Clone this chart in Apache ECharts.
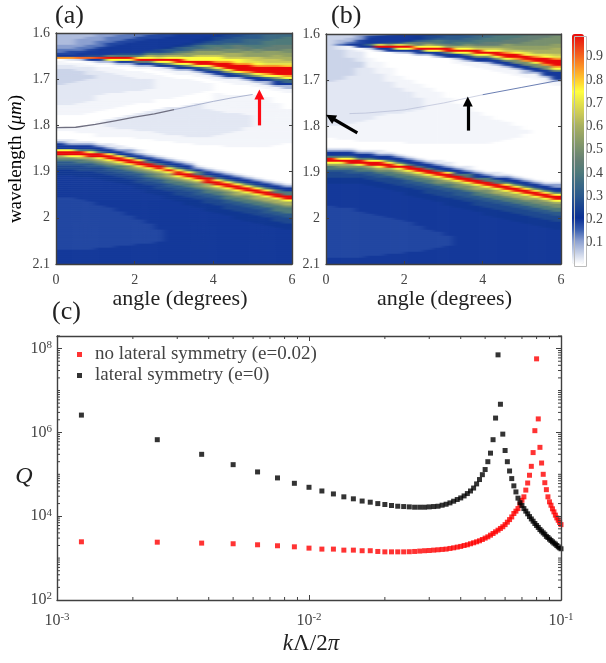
<!DOCTYPE html>
<html><head><meta charset="utf-8">
<style>html,body{margin:0;padding:0;background:#fff}
#page{position:relative;width:606px;height:663px;overflow:hidden}
#c{position:absolute;left:0;top:0;width:606px;height:663px;filter:blur(0.4px)}
.clip{position:absolute;overflow:hidden}
.inner{position:absolute;filter:url(#heatBlur)}
</style>
<script src="https://cdn.jsdelivr.net/npm/echarts@6/dist/echarts.min.js"></script>
</head><body>
<svg width="0" height="0" style="position:absolute"><filter id="heatBlur" x="0" y="0" width="100%" height="100%" color-interpolation-filters="sRGB"><feGaussianBlur stdDeviation="3 0.6"/></filter></svg>
<div id="page"><div id="c"></div></div>
<script>
// colour scale (0 to 1 in steps of 0.05)
const colorStops = ['#ffffff','#c5cfe6','#8ca0d0','#3a5fb0','#0a2f94','#1a4490','#2c5a8c','#3c6a84','#4f7a7a','#647f74','#78906e','#90a066','#a8b060','#c8c858','#e4e24c','#ffff40','#ffcc30','#fc9a28','#f56a20','#ec3a18','#ea0808'];
const levelSymbols = '0123456789abcdefghijklmnop';
const levelValues = [0,.01,.025,.045,.07,.1,.13,.175,.19,.22,.26,.3,.35,.4,.45,.5,.55,.6,.65,.7,.75,.8,.85,.9,.95,1];
const rowCount = 115;
// each column: level symbol : wavelength offset (thousandths of a micron above 1.6) up to which it holds
const panelAColumns = [
"4:25 5:36 6:43 7:47 8:51 m:55 8:56 2:58 0:62 1:68 2:78 3:115 2:155 1:180 0:205 1:213 0:231 2:236 5:241 8:250 d:253 k:256 p:264 k:267 h:270 f:274 d:279 b:286 a:296 9:309 8:355 7:470 8:500",
"4:25 5:34 6:41 7:46 8:51 m:55 8:57 2:60 0:64 1:70 2:80 3:110 2:155 1:178 0:204 1:214 0:232 2:237 5:242 8:251 d:254 k:257 p:265 k:268 h:271 f:275 d:280 b:287 a:297 9:310 8:358 7:470 8:500",
"4:15 5:30 6:38 7:44 8:50 a:52 l:53 n:55 k:56 8:58 3:61 0:66 1:72 2:84 3:105 2:150 1:178 0:203 1:216 0:233 2:238 5:243 8:252 d:255 k:258 p:266 k:269 h:272 f:276 d:281 b:288 a:298 9:311 8:360 7:470 8:500",
"4:10 5:24 6:35 7:40 8:49 a:51 k:53 n:56 k:57 8:59 3:62 1:66 0:70 1:76 2:90 3:100 2:146 1:174 0:198 1:218 0:235 2:240 5:245 8:254 d:257 k:260 p:268 k:271 h:274 f:278 d:283 b:290 a:300 9:313 8:365 7:468 8:500",
"5:18 6:30 7:36 8:48 a:50 g:52 k:54 o:57 k:58 8:61 4:65 1:70 0:75 1:84 2:135 1:170 0:192 1:225 0:237 2:243 5:248 8:257 d:260 k:263 p:271 k:274 h:277 f:281 d:286 b:293 a:303 9:316 8:372 7:466 8:500",
"5:10 6:22 7:32 8:46 a:49 e:51 k:54 p:57 k:59 8:62 4:66 1:71 0:76 1:88 2:132 1:165 0:188 2:205 1:226 0:240 2:246 5:251 8:260 d:263 k:266 p:274 k:277 h:281 f:285 d:290 b:298 a:308 9:322 8:380 7:464 8:500",
"5:6 6:16 7:26 8:45 a:48 d:51 j:54 p:58 k:60 e:62 8:65 4:69 1:74 0:80 1:92 2:130 1:160 0:184 2:208 1:228 0:245 2:250 5:255 8:264 d:267 k:270 p:278 k:281 h:285 f:289 d:295 b:303 a:313 9:327 8:388 7:462 8:500",
"6:14 7:22 8:44 a:47 d:50 j:54 p:58 k:61 e:63 8:66 4:70 1:76 0:82 1:95 2:128 1:156 0:180 2:210 1:228 0:249 2:254 5:259 8:268 d:271 k:274 p:282 k:285 h:289 f:294 d:300 b:308 a:318 9:332 8:396 7:460 8:500",
"6:10 7:18 8:42 a:46 d:50 i:54 k:56 p:59 k:62 e:64 8:68 4:72 1:78 0:84 1:98 2:125 1:152 0:175 2:212 1:230 0:254 2:259 5:264 8:272 d:276 k:279 p:287 k:291 h:295 f:300 d:306 b:314 a:325 9:340 8:405 7:458 8:500",
"6:5 7:14 8:38 a:44 d:49 h:53 k:56 p:60 k:63 e:65 8:69 4:73 1:80 0:86 1:100 2:122 1:150 0:171 2:215 1:232 0:259 2:264 5:269 8:277 d:281 k:284 p:292 k:296 h:300 f:305 d:312 b:320 a:331 9:346 8:415 7:456 8:500",
"7:12 8:34 a:42 d:48 g:52 j:55 k:57 p:62 k:65 f:67 b:68 8:72 4:76 1:84 0:90 1:145 0:167 2:218 1:234 0:264 2:269 5:274 8:282 d:286 k:289 p:297 k:301 h:305 f:311 d:318 b:326 a:338 9:353 8:425 7:454 8:500",
"7:8 8:30 9:36 b:42 e:48 h:53 k:57 p:63 k:66 f:68 b:70 8:74 4:78 1:86 0:94 1:142 0:163 2:220 1:236 0:269 2:274 5:279 8:287 d:291 k:294 p:302 k:306 h:311 f:317 d:324 b:333 a:345 9:360 8:500",
"8:26 9:32 b:38 d:44 f:49 h:53 k:58 p:65 k:68 f:71 b:73 8:77 4:81 1:90 0:98 1:138 0:159 2:222 1:238 0:274 2:279 5:284 8:292 d:296 k:299 p:307 k:311 h:316 f:322 d:330 b:339 a:351 9:366 8:500",
"8:20 9:26 a:32 c:38 e:44 g:50 i:54 k:59 p:67 k:70 f:73 b:75 8:80 4:84 1:93 0:102 1:135 0:156 2:224 1:240 0:279 2:284 5:289 8:297 d:301 k:304 p:312 k:316 h:321 f:327 d:335 b:345 a:357 9:372 8:500",
"8:14 9:22 a:28 c:34 e:41 g:48 i:54 k:60 p:69 k:72 f:75 b:77 8:83 4:87 1:96 0:105 1:132 0:152 2:225 1:242 0:285 2:290 5:295 8:302 d:307 k:310 p:318 k:322 h:327 f:333 d:341 b:351 a:363 9:379 8:500",
"8:8 9:16 a:22 b:28 d:34 e:40 g:47 i:54 k:60 m:63 p:71 k:75 f:78 b:81 8:87 4:91 1:100 0:110 1:128 0:148 1:165 2:225 1:244 0:290 2:295 5:300 8:307 d:312 k:315 p:324 k:328 h:333 f:339 d:347 b:357 a:369 9:385 8:500",
"9:10 a:18 b:26 d:32 e:38 g:46 i:54 k:61 m:64 p:74 k:78 f:81 b:84 8:90 4:94 1:104 0:130 1:170 2:222 1:245 0:295 2:300 5:305 8:312 d:317 k:320 p:329 k:333 h:338 f:345 d:353 b:363 a:375 9:391 8:500",
"9:6 a:14 b:22 c:28 d:34 f:42 h:50 i:56 k:62 m:66 p:78 k:82 g:85 c:88 8:94 4:99 1:108 0:135 1:172 2:218 1:246 0:300 2:305 5:310 8:317 d:322 k:325 p:334 k:338 h:344 f:351 d:359 b:369 a:381 9:397 8:500",
"a:10 b:20 c:28 e:36 f:44 h:52 i:58 k:64 m:68 p:81 k:85 g:88 c:91 8:97 4:102 1:112 0:133 1:175 2:212 1:247 0:304 2:309 5:314 8:322 d:327 k:330 p:339 k:344 h:350 f:357 d:365 b:375 a:387 9:403 8:500",
"a:6 b:14 c:24 d:32 e:40 g:50 i:58 j:64 k:67 m:70 p:83 m:85 k:88 g:91 c:94 8:100 4:105 1:115 0:133 1:180 2:205 1:248 0:308 2:313 5:318 8:326 d:331 k:334 p:343 k:348 h:354 f:361 d:369 b:379 a:391 9:407 8:500",
"b:12 c:24 d:34 f:42 g:50 i:60 j:66 k:69 m:72 p:85 m:88 k:91 g:94 c:97 8:103 4:108 1:118 0:135 1:248 0:312 2:317 5:322 8:331 d:336 k:339 p:348 k:353 h:359 f:366 d:374 b:384 a:396 9:412 8:500",
"b:6 c:18 d:32 e:40 g:50 h:58 i:64 j:68 k:71 m:73 p:88 m:91 k:94 g:97 c:100 8:106 4:111 1:121 0:140 1:248 0:317 2:322 5:327 8:336 d:341 k:344 p:353 k:358 h:364 f:371 d:380 b:390 a:402 9:418 8:500",
"c:12 d:28 e:38 g:48 h:56 i:64 j:68 k:71 m:74 p:90 m:93 k:96 g:100 c:104 8:111 4:116 1:125 0:150 1:245 0:322 2:327 5:332 8:341 d:346 k:349 p:358 k:363 h:369 f:376 d:385 b:395 a:407 9:423 8:500",
"c:8 d:24 e:36 f:44 g:52 h:60 i:66 j:70 l:73 m:75 p:93 m:95 k:98 g:102 c:107 8:115 4:122 1:129 0:165 1:240 0:325 2:331 5:336 8:345 d:350 k:353 p:362 k:367 h:373 f:380 d:390 b:400 a:412 9:428 8:500"
];
const panelBColumns = [
"3:105 2:200 1:228 0:246 2:251 5:256 8:265 d:268 k:271 p:279 k:282 h:285 f:289 d:294 b:301 a:311 9:324 8:375 7:485 8:500",
"3:14 4:22 6:25 2:35 3:100 2:198 1:230 0:247 2:252 5:257 8:266 d:269 k:272 p:280 k:283 h:286 f:290 d:295 b:302 a:312 9:325 8:378 7:485 8:500",
"3:8 4:16 6:22 8:26 1:34 2:50 3:90 2:195 1:232 0:248 2:253 5:258 8:267 d:270 k:273 p:281 k:284 h:287 f:291 d:296 b:303 a:313 9:326 8:380 7:485 8:500",
"4:6 5:12 7:20 8:25 j:27 8:29 0:33 1:40 2:60 3:75 2:190 1:233 0:250 2:255 5:260 8:269 d:272 k:275 p:283 k:286 h:289 f:293 d:298 b:305 a:315 9:328 8:385 7:485 8:500",
"5:4 7:10 8:22 c:24 l:26 n:28 8:31 3:34 0:50 1:75 2:185 1:234 0:252 2:257 5:262 8:271 d:274 k:277 p:285 k:288 h:291 f:295 d:300 b:307 a:317 9:330 8:390 7:484 8:500",
"6:3 7:6 8:20 b:23 j:25 p:29 k:30 8:34 3:37 0:62 1:88 2:180 1:235 0:254 2:259 5:264 8:273 d:276 k:279 p:287 k:290 h:294 f:298 d:303 b:311 a:321 9:335 8:395 7:482 8:500",
"7:3 8:18 a:21 g:24 k:27 p:30 k:32 8:37 3:40 0:76 1:105 2:176 1:236 0:257 2:262 5:267 8:276 d:279 k:282 p:290 k:293 h:297 f:301 d:307 b:315 a:325 9:339 8:400 7:480 8:500",
"8:16 a:20 e:23 j:26 p:31 k:33 8:39 3:42 0:90 1:118 2:172 1:236 0:260 2:265 5:270 8:279 d:282 k:285 p:293 k:296 h:300 f:305 d:311 b:319 a:329 9:343 8:405 7:478 8:500",
"8:12 9:18 d:22 h:26 k:28 p:32 k:35 8:41 4:44 0:100 1:128 2:168 1:237 0:264 2:269 5:274 8:282 d:286 k:289 p:297 k:301 h:305 f:310 d:316 b:324 a:335 9:350 8:410 7:476 8:500",
"8:6 9:14 b:19 e:24 h:27 k:29 p:33 k:36 8:43 4:46 0:107 1:140 2:165 1:237 0:268 2:273 5:278 8:286 d:290 k:293 p:301 k:305 h:309 f:314 d:321 b:329 a:340 9:355 8:418 7:474 8:500",
"9:5 a:12 c:18 e:23 h:27 k:30 p:34 k:37 f:39 8:45 4:48 0:116 1:237 0:272 2:277 5:282 8:290 d:294 k:297 p:305 k:309 h:313 f:319 d:326 b:334 a:346 9:361 8:425 7:470 8:500",
"9:2 a:8 b:14 d:20 f:25 h:28 k:31 p:36 k:39 f:41 8:47 4:50 0:126 1:238 0:276 2:281 5:286 8:294 d:298 k:301 p:309 k:313 h:318 f:324 d:331 b:340 a:352 9:367 8:432 7:465 8:500",
"a:6 b:14 c:20 e:25 g:29 k:32 p:37 k:40 f:43 8:50 4:54 0:138 1:238 0:280 2:285 5:290 8:298 d:302 k:305 p:313 k:317 h:322 f:328 d:336 b:345 a:357 9:372 8:440 7:460 8:500",
"a:4 b:12 c:19 d:24 f:28 h:31 k:34 p:39 k:42 f:45 8:53 4:57 1:66 0:150 1:238 0:285 2:290 5:295 8:303 d:307 k:310 p:318 k:322 h:327 f:333 d:341 b:351 a:363 9:378 8:500",
"b:8 c:16 d:22 f:27 h:31 k:35 p:41 k:44 f:48 8:56 4:60 1:70 0:160 1:238 0:289 2:294 5:299 8:306 d:311 k:314 p:322 k:326 h:331 f:337 d:345 b:355 a:367 9:383 8:500",
"b:5 c:14 d:21 e:26 g:31 i:34 k:36 p:43 k:47 f:51 8:59 4:63 1:74 0:170 1:238 0:294 2:299 5:304 8:311 d:316 k:319 p:328 k:332 h:337 f:343 d:351 b:361 a:373 9:389 8:500",
"c:10 d:19 e:25 g:31 i:35 k:38 p:45 k:49 f:53 8:62 4:66 1:78 0:177 1:237 0:298 2:303 5:308 8:315 d:320 k:323 p:332 k:336 h:341 f:348 d:356 b:366 a:378 9:394 8:500",
"c:6 d:16 e:24 g:31 i:36 k:39 m:41 p:48 k:52 f:57 8:66 4:70 1:82 0:185 1:234 0:302 2:307 5:312 8:319 d:324 k:327 p:336 k:340 h:346 f:353 d:361 b:371 a:383 9:399 8:500",
"d:12 e:22 g:30 h:35 i:38 k:41 m:43 p:50 m:52 k:55 f:60 8:70 4:75 1:88 0:193 1:230 0:305 2:310 5:315 8:323 d:328 k:331 p:340 k:345 h:351 f:358 d:366 b:376 a:388 9:404 8:500",
"d:8 e:20 f:28 g:34 i:39 k:43 m:45 p:52 m:55 k:58 f:64 8:75 4:80 1:92 0:201 1:225 0:309 2:314 5:319 8:327 d:332 k:335 p:344 k:349 h:355 f:362 d:370 b:380 a:392 9:408 8:500",
"d:4 e:16 f:26 g:34 h:40 j:44 k:46 m:48 p:56 m:59 k:62 f:68 8:80 4:85 1:97 0:209 1:217 0:312 2:317 5:322 8:331 d:336 k:339 p:348 k:353 h:359 f:366 d:374 b:384 a:396 9:412 8:500",
"e:14 f:26 g:36 h:42 j:47 k:49 m:51 p:60 m:63 k:66 f:72 8:84 4:89 1:102 0:316 2:321 5:326 8:335 d:340 k:343 p:352 k:357 h:363 f:370 d:379 b:389 a:401 9:417 8:500",
"e:10 f:24 g:36 h:43 j:48 k:51 m:53 p:65 m:68 k:71 f:77 8:90 4:95 1:107 0:320 2:325 5:330 8:339 d:344 k:347 p:356 k:361 h:367 f:374 d:383 b:393 a:405 9:421 8:500",
"e:6 f:20 g:32 h:42 i:47 j:50 k:53 m:55 p:71 m:74 k:78 f:84 8:98 4:104 1:114 0:322 2:328 5:333 8:342 d:347 k:350 p:359 k:364 h:370 f:377 d:387 b:397 a:409 9:425 8:500"
];
// the thin resonance lines: [angle, wavelength]
const thinLineA = [[0,1.805],[0.5,1.804],[1,1.798],[1.5,1.79],[2,1.782],[2.5,1.775],[3,1.766]];
const fadedLineA = [[3,1.766],[3.5,1.757],[4,1.748],[4.5,1.74],[5,1.733]];
const fadedLineB = [[0.6,1.773],[1,1.772],[2,1.765],[3,1.75],[4,1.732]];
const thinLineB = [[4,1.732],[5,1.716],[6,1.70]];
// panel (c)
const kValues = [0.00125,0.0025,0.00375,0.005,0.00625,0.0075,0.00875,0.01,0.01125,0.0125,0.01375,0.015,0.01625,0.0175,0.01875,0.02,0.02125,0.0225,0.02375,0.025,0.02625,0.0275,0.02875,0.03,0.03125,0.0325,0.03375,0.035,0.03625,0.0375,0.03875,0.04,0.04125,0.0425,0.04375,0.045,0.04625,0.0475,0.04875,0.05,0.05125,0.0525,0.05375,0.055,0.05625,0.0575,0.05875,0.06,0.06125,0.0625,0.06375,0.065,0.06625,0.0675,0.06875,0.07,0.07125,0.0725,0.07375,0.075,0.07625,0.0775,0.07875,0.08,0.08125,0.0825,0.08375,0.085,0.08625,0.0875,0.08875,0.09,0.09125,0.0925,0.09375,0.095,0.09625,0.0975,0.09875,0.1];
const qNoSymmetry = [2.45e3,2.4e3,2.28e3,2.2e3,2.08e3,1.97e3,1.86e3,1.73e3,1.64e3,1.64e3,1.55e3,1.55e3,1.5e3,1.5e3,1.44e3,1.41e3,1.41e3,1.41e3,1.41e3,1.42e3,1.44e3,1.47e3,1.5e3,1.52e3,1.55e3,1.58e3,1.61e3,1.64e3,1.7e3,1.76e3,1.83e3,1.9e3,2.0e3,2.08e3,2.2e3,2.32e3,2.45e3,2.59e3,2.78e3,3.0e3,3.22e3,3.53e3,3.87e3,4.24e3,4.64e3,5.1e3,5.6e3,6.3e3,7.2e3,8.3e3,9.6e3,1.16e4,1.32e4,1.52e4,1.93e4,2.4e4,2.9e4,4.2e4,6.2e4,9.5e4,1.55e5,3.3e5,1.1e6,5.7e7,2.1e6,4.4e5,1.86e5,1.0e5,6.3e4,4.3e4,2.9e4,2.2e4,1.83e4,1.5e4,1.27e4,1.06e4,9.1e3,8.0e3,7.1e3,6.3e3];
const qSymmetry = [2.59e6,6.7e5,3.0e5,1.7e5,1.14e5,8.2e4,6.1e4,4.9e4,4.0e4,3.4e4,2.9e4,2.6e4,2.3e4,2.16e4,2.0e4,1.9e4,1.8e4,1.73e4,1.7e4,1.67e4,1.64e4,1.64e4,1.64e4,1.67e4,1.7e4,1.73e4,1.83e4,1.93e4,2.08e4,2.28e4,2.5e4,2.73e4,3.05e4,3.47e4,4.0e4,4.7e4,5.9e4,7.5e4,9.8e4,1.3e5,2.0e5,3.2e5,6.7e5,2.2e6,7.1e7,4.7e6,9.1e5,3.7e5,2.0e5,1.2e5,7.9e4,5.3e4,3.8e4,2.7e4,2.1e4,1.8e4,1.52e4,1.32e4,1.14e4,9.8e3,8.6e3,7.6e3,6.7e3,6.0e3,5.4e3,4.8e3,4.4e3,4.0e3,3.7e3,3.3e3,3.1e3,2.84e3,2.64e3,2.45e3,2.28e3,2.16e3,2.0e3,1.86e3,1.76e3,1.67e3];
const xMinorTicks = [0.002,0.003,0.004,0.005,0.006,0.007,0.008,0.009,0.02,0.03,0.04,0.05,0.06,0.07,0.08,0.09];
const yMinorTicks = [200,300,400,500,600,700,800,900,1e3,2e3,3e3,4e3,5e3,6e3,7e3,8e3,9e3,2e4,3e4,4e4,5e4,6e4,7e4,8e4,9e4,1e5,2e5,3e5,4e5,5e5,6e5,7e5,8e5,9e5,2e6,3e6,4e6,5e6,6e6,7e6,8e6,9e6,1e7,2e7,3e7,4e7,5e7,6e7,7e7,8e7,9e7,2e8];
const colorbarTicks = [0.1,0.2,0.3,0.4,0.5,0.6,0.7,0.8,0.9];

const serif = 'Liberation Serif';
const ink = '#404040';
const idx = n=>Array.from({length:n},(_,i)=>i);

// each heat map sits in its own clipped layer under the axes; edge cells repeat so the soft edge stays outside the frame
const padCols = 2, padRows = 3;
function decode(columns){
  const cols = [...Array(padCols).fill(columns[0]),...columns,...Array(padCols).fill(columns[columns.length-1])];
  const out = [];
  cols.forEach((col,c)=>{
    const segs = col.split(' ').map(s=>s.split(':'));
    for(let r=-padRows;r<rowCount+padRows;r++){
      const off=(Math.max(0,Math.min(rowCount-1,r))+0.5)*500/rowCount;
      const seg=segs.find(s=>+s[1]>=off)||segs[segs.length-1];
      out.push([c,r+padRows,levelValues[levelSymbols.indexOf(seg[0])]]);
    }
  });
  return out;
}
function heatLayer(rect,columns){
  const page=document.getElementById('page');
  const clip=document.createElement('div');clip.className='clip';
  Object.assign(clip.style,{left:rect.left+'px',top:rect.top+'px',width:rect.width+'px',height:rect.height+'px'});
  const inner=document.createElement('div');inner.className='inner';
  const m=40;
  Object.assign(inner.style,{left:-m+'px',top:-m+'px',width:(rect.width+2*m)+'px',height:(rect.height+2*m)+'px'});
  clip.appendChild(inner);page.insertBefore(clip,page.firstChild);
  const cw=rect.width/columns.length, rh=rect.height/rowCount;
  const nc=columns.length+2*padCols, nr=rowCount+2*padRows;
  const chart=echarts.init(inner,null,{renderer:'canvas'});
  chart.setOption({animation:false,
    grid:{left:m-padCols*cw,top:m-padRows*rh,width:nc*cw,height:nr*rh},
    xAxis:{type:'category',data:idx(nc),show:false},
    yAxis:{type:'category',data:idx(nr),show:false,inverse:true},
    visualMap:{show:false,type:'continuous',min:0,max:1,dimension:2,inRange:{color:colorStops}},
    series:[{type:'heatmap',data:decode(columns),progressive:0,silent:true,emphasis:{disabled:true}}]
  });
}
heatLayer({left:56,top:33,width:236,height:231},panelAColumns);
heatLayer({left:326,top:34,width:235,height:230},panelBColumns);

const frameLine={show:true,onZero:false,lineStyle:{color:ink,width:1.4}};
const frameTick={show:true,inside:true,length:3,lineStyle:{color:ink,width:1}};
const lab={fontFamily:serif,fontSize:14,color:'#444'};
function valX(g,pos,name,pad){return {type:'value',gridIndex:g,position:pos,min:0,max:6,interval:2,z:6,splitLine:{show:false},axisLine:frameLine,axisTick:frameTick,
  axisLabel:pos==='bottom'?{...lab,margin:9}:{show:false},
  name:name,nameLocation:'middle',nameGap:21,nameTextStyle:{fontFamily:serif,fontSize:22,color:'#222',padding:[0,0,0,pad||0]}};}
function valY(g,pos){return {type:'value',gridIndex:g,position:pos,inverse:true,min:1.6,max:2.1,interval:0.1,z:6,splitLine:{show:false},axisLine:frameLine,axisTick:frameTick,
  axisLabel:(pos==='left')?{...lab,margin:6,formatter:v=>Math.abs(v-2)<1e-6?'2':v.toFixed(1)}:{show:false}};}
const powerRich={b:{fontFamily:serif,fontSize:16,color:'#444'},s:{fontFamily:serif,fontSize:11,color:'#444',verticalAlign:'bottom',padding:[0,0,7,0]}};
function power(v){return '{b|10}{s|'+Math.round(Math.log10(v))+'}';}
function logX(pos,name){return {type:'log',logBase:10,gridIndex:2,position:pos,min:1e-3,max:0.1,z:6,splitLine:{show:false},minorTick:{show:false},axisLine:frameLine,
  axisTick:{show:true,inside:true,length:5,lineStyle:{color:ink}},
  axisLabel:pos==='bottom'?{margin:12,formatter:power,rich:powerRich}:{show:false},
  name:name,nameLocation:'middle',nameGap:32,nameTextStyle:{padding:[0,0,0,4],rich:{i:{fontFamily:serif,fontStyle:'italic',fontSize:23,color:'#222'},n:{fontFamily:serif,fontSize:23,color:'#222'}}}};}
function logY(pos){return {type:'log',logBase:10,gridIndex:2,position:pos,min:100,max:2e8,interval:2,z:6,splitLine:{show:false},minorTick:{show:false},axisLine:frameLine,
  axisTick:{show:true,inside:true,length:5,lineStyle:{color:ink}},
  axisLabel:pos==='left'?{margin:5,formatter:power,rich:powerRich}:{show:false}};}

function thin(data,ax,color,width,opacity){return {type:'line',data,xAxisIndex:ax,yAxisIndex:ax,symbol:'none',silent:true,z:3,lineStyle:{color,width,opacity}};}
function arrow(name,ax,color,from,to,width){return {type:'line',name,data:[],xAxisIndex:ax,yAxisIndex:ax,symbol:'none',z:4,silent:true,
  markLine:{silent:true,symbol:['none','triangle'],symbolSize:[10,10],label:{show:false},animation:false,z:7,lineStyle:{color,width,type:'solid'},data:[[{coord:from},{coord:to}]]}};}
function tickSeries(list,dx,dy){return {type:'custom',xAxisIndex:4,yAxisIndex:4,silent:true,z:7,data:list,clip:false,
  renderItem:(p,api)=>{const q=api.coord([api.value(0),api.value(1)]);
    return {type:'line',shape:{x1:q[0],y1:q[1],x2:q[0]+dx,y2:q[1]+dy},style:{stroke:ink,lineWidth:1}};}};}

const nameRich={n:{fontFamily:serif,fontSize:19,color:'#222'},i:{fontFamily:serif,fontStyle:'italic',fontSize:19,color:'#222'}};
const option={
  animation:false,backgroundColor:'transparent',
  grid:[
    {left:56,top:33,width:236,height:231},
    {left:326,top:34,width:235,height:230},
    {left:57,top:336,width:504,height:264},
    {left:572,top:33.5,width:12,height:232.5}
  ],
  xAxis:[valX(0,'bottom','angle (degrees)',12),valX(0,'top'),valX(1,'bottom','angle (degrees)',2),valX(1,'top'),
    logX('bottom','{i|k}{n|Λ/2}{i|π}'),logX('top'),{type:'value',gridIndex:3,show:false,min:0,max:1}],
  yAxis:[valY(0,'left'),valY(0,'right'),valY(1,'left'),valY(1,'right'),logY('left'),logY('right'),
    {type:'value',gridIndex:3,position:'right',min:0,max:1,interval:0.1,z:6,splitLine:{show:false},axisLine:{show:false},
     axisTick:{show:false},axisLabel:{...lab,margin:4,formatter:v=>colorbarTicks.some(t=>Math.abs(t-v)<1e-6)?v.toFixed(1):''}}],
  visualMap:{type:'continuous',min:0,max:1,dimension:2,seriesIndex:[],left:572,top:34,itemWidth:12,itemHeight:230,padding:0,calculable:false,text:null,inRange:{color:colorStops},textStyle:{fontSize:0}},
  legend:{show:true,data:['no lateral symmetry (e=0.02)','lateral symmetry (e=0)'],orient:'vertical',left:77,top:345,itemWidth:5,itemHeight:5,itemGap:2,icon:'rect',selectedMode:false,padding:0,
    textStyle:{fontFamily:serif,fontSize:19,color:'#444',padding:[0,0,0,8]}},
  series:[
    thin(thinLineA,0,'#6f6f80',1.3,1),
    thin(fadedLineA,0,'#9aa4c4',1,.8),
    thin(fadedLineB,2,'#a8b0cc',.8,.7),
    thin(thinLineB,2,'#5a70aa',1,.9),
    arrow('up a',0,'#ff0a14',[5.17,1.80],[5.17,1.733],3.2),
    arrow('up b',2,'#000',[3.62,1.81],[3.62,1.747],3.2),
    arrow('diag b',2,'#000',[0.8,1.8148],[0.11,1.781],3.2),
    {type:'scatter',name:'no lateral symmetry (e=0.02)',xAxisIndex:4,yAxisIndex:4,symbol:'rect',symbolSize:5,itemStyle:{color:'#ff0000'},z:4,silent:true,data:kValues.map((k,i)=>[k,qNoSymmetry[i]])},
    {type:'scatter',name:'lateral symmetry (e=0)',xAxisIndex:4,yAxisIndex:4,symbol:'rect',symbolSize:5,itemStyle:{color:'#000'},z:5,silent:true,data:kValues.map((k,i)=>[k,qSymmetry[i]])},
    tickSeries(xMinorTicks.map(v=>[v,100]),0,-3),
    tickSeries(xMinorTicks.map(v=>[v,2e8]),0,3),
    tickSeries(yMinorTicks.map(v=>[1e-3,v]),3,0),
    tickSeries(yMinorTicks.map(v=>[0.1,v]),-3,0)
  ],
  graphic:[
    {type:'text',left:55,top:3,style:{text:'(a)',font:'26px "Liberation Serif"',fill:'#222'}},
    {type:'text',left:331,top:3,style:{text:'(b)',font:'26px "Liberation Serif"',fill:'#222'}},
    {type:'text',left:52,top:299,style:{text:'(c)',font:'26px "Liberation Serif"',fill:'#222'}},
    {type:'rect',left:572,top:34,shape:{width:12,height:230},style:{fill:'none',stroke:'#bbb',lineWidth:1},z:20},
    {type:'text',x:16,y:159,rotation:Math.PI/2,silent:true,style:{text:'{n|wavelength (}{i|μm}{n|)}',rich:nameRich,align:'center',verticalAlign:'middle'}},
    {type:'text',x:24,y:477,silent:true,style:{text:'Q',font:'italic 24px "Liberation Serif"',fill:'#222',align:'center',verticalAlign:'middle'}}
  ]
};
const chart=echarts.init(document.getElementById('c'),null,{renderer:'canvas'});
chart.setOption(option);
</script></body></html>
